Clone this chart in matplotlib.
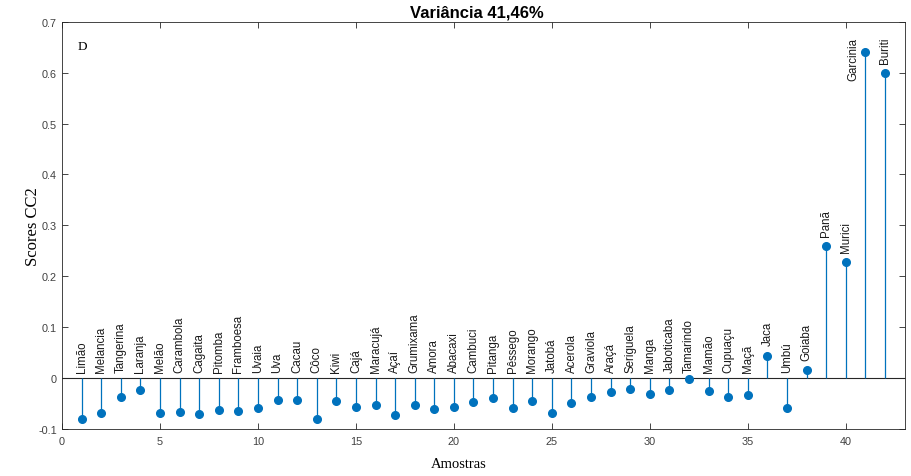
import matplotlib
matplotlib.use('Agg')
import matplotlib.pyplot as plt
import numpy as np

amostras = ['Limão', 'Melancia', 'Tangerina', 'Laranja', 'Melão', 'Carambola',
            'Cagaita', 'Pitomba', 'Framboesa', 'Uvaia', 'Uva', 'Cacau', 'Côco',
            'Kiwi', 'Cajá', 'Maracujá', 'Açaí', 'Grumixama', 'Amora', 'Abacaxi',
            'Cambuci', 'Pitanga', 'Pêssego', 'Morango', 'Jatobá', 'Acerola',
            'Graviola', 'Araçá', 'Seriguela', 'Manga', 'Jaboticaba', 'Tamarindo',
            'Mamão', 'Cupuaçu', 'Maçã', 'Jaca', 'Umbú', 'Goiaba', 'Panã',
            'Murici', 'Garcinia', 'Buriti']
scores_cc2 = [-0.080, -0.069, -0.037, -0.024, -0.069, -0.067, -0.071, -0.063,
              -0.065, -0.059, -0.043, -0.043, -0.081, -0.045, -0.057, -0.053,
              -0.073, -0.053, -0.061, -0.057, -0.047, -0.039, -0.059, -0.045,
              -0.069, -0.049, -0.037, -0.027, -0.022, -0.031, -0.024, -0.002,
              -0.025, -0.037, -0.034, 0.044, -0.060, 0.016, 0.260, 0.227,
              0.640, 0.600]
x_ticks = [0, 5, 10, 15, 20, 25, 30, 35, 40]
y_ticks = [-0.1, 0, 0.1, 0.2, 0.3, 0.4, 0.5, 0.6, 0.7]

sans = ['Liberation Sans', 'DejaVu Sans']
serif = ['Liberation Serif', 'DejaVu Serif']
blue = '#0072BD'
axis_gray = '#262626'

fig = plt.figure(figsize=(9.11, 4.77), dpi=100)
ax = fig.add_axes([0.068, 0.099, 0.925, 0.853])

x = np.arange(1, len(scores_cc2) + 1)
ax.axhline(0, color=axis_gray, lw=0.8, zorder=1)
ax.vlines(x, 0, scores_cc2, color=blue, lw=0.9, zorder=2)
ax.plot(x, scores_cc2, 'o', color=blue, ms=5.5, zorder=3)

# nome de cada amostra acima do ponto (ou da linha de base)
for xi, yi, nome in zip(x, scores_cc2, amostras):
    if nome == 'Garcinia':
        # sem espaço acima: rótulo ao lado da haste
        ax.text(xi - 0.62, yi - 0.012, nome, rotation=90, ha='center',
                va='center', fontsize=8.3, family=sans, color='#1a1a1a')
        continue
    y0 = yi + 0.02 if yi > 0 else 0.012
    ax.text(xi, y0, nome, rotation=90, ha='center', va='bottom',
            fontsize=8.3, family=sans, color='#1a1a1a')

ax.text(0.8, 0.652, 'D', fontsize=9.5, family=serif, ha='left', va='center')

ax.set_xlim(0, 43)
ax.set_ylim(-0.1, 0.7)
ax.set_xticks(x_ticks)
ax.set_yticks(y_ticks)
ax.set_xticklabels([str(t) for t in x_ticks], family=sans)
ax.set_yticklabels(['0' if t == 0 else f'{t:.1f}' for t in y_ticks], family=sans)
ax.tick_params(direction='in', top=True, right=True, labelsize=7.8,
               colors=axis_gray, length=4, width=0.6)
ax.tick_params(labelcolor='#404040')
ax.tick_params(axis='x', pad=5)
for s in ax.spines.values():
    s.set_color(axis_gray)
    s.set_linewidth(0.6)

ax.set_title('Variância 41,46%', fontsize=12, fontweight='bold', family=sans,
             pad=4, x=0.492)
ax.set_ylabel('Scores CC2', fontsize=12, family=serif)
ax.yaxis.set_label_coords(-0.025, 0.5)
ax.set_xlabel('Amostras', fontsize=10.5, family=serif)
ax.xaxis.set_label_coords(0.471, -0.07)

plt.savefig('out.png', dpi=100)
